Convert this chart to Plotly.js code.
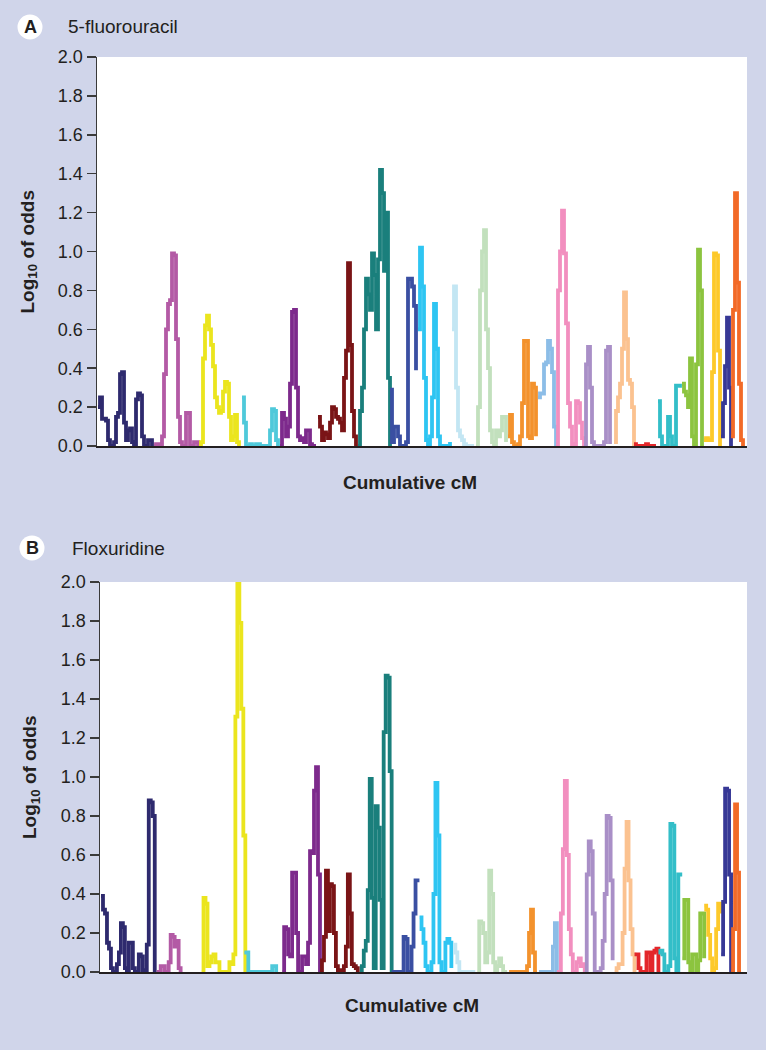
<!DOCTYPE html>
<html><head><meta charset="utf-8">
<script src="https://cdn.plot.ly/plotly-3.0.1.min.js"></script>
<style>html,body{margin:0;padding:0;background:#d0d5ea;}#chart{width:766px;height:1050px;}</style>
</head><body><div id="chart"></div>
<script>
// ---- data ----
const chromosomes = ['1','2','3','4','5','6','7','8','9','10','11','12','13','14','15','16','17','18','19','20','21','22'];
// cumulative cM where each chromosome's scan starts; markers every 2 cM
const chrStartCM = [1,57,102,145,183,221,261,293,321,355,379,411,441,459,487,517,537,561,585,607,624,634];
const markerSpacingCM = 2;
const chrColors = ['#2e2a6e','#b35aa5','#ebe51e','#4fc9da','#7d2a8c','#7a1416','#1a7f7c','#3a4fa2','#2ec5f2','#c3e6f3','#c2e0bd','#f3922d','#8cbde7','#f28fbf','#a98fc7','#fbc290','#e3262a','#33bec8','#8cc43f','#fdc92a','#373896','#f26a27'];

// LOD scores, 5-fluorouracil (panel A), one row per chromosome
const lodFluorouracil = [
  [0.2,0.25,0.14,0.14,0.13,0.03,0,0,0.02,0.15,0.17,0.37,0.38,0.12,0.03,0.08,0.09,0.02,0,0.24,0.27,0.26,0.05,0,0,0.03,0.03,0],
  [0,0.01,0.01,0,0.05,0.37,0.6,0.73,0.75,0.99,0.98,0.55,0.15,0.02,0,0,0.17,0.17,0,0,0.02,0.02,0],
  [0,0.02,0.45,0.62,0.67,0.6,0.52,0.41,0.25,0.2,0.17,0.18,0.28,0.33,0.32,0.15,0.03,0.05,0.16,0.02,0],
  [0.25,0.12,0,0,0.01,0,0,0.01,0.01,0,0,0,0,0,0.08,0.19,0.18,0.03,0],
  [0,0.17,0.14,0.05,0.1,0.32,0.69,0.7,0.3,0.05,0.03,0.04,0.02,0.08,0.08,0.01,0,0,0],
  [0.15,0.1,0.03,0.07,0.06,0.04,0.12,0.2,0.19,0.15,0.14,0.12,0.08,0.35,0.49,0.94,0.52,0.18,0.05,0],
  [0,0.18,0.3,0.6,0.86,0.78,0.7,0.99,0.88,0.6,0.96,1.42,1.3,0.9,1.2,0.35,0],
  [0.29,0.02,0.1,0.1,0.05,0,0,0,0.02,0.86,0.86,0.82,0.72,0.39],
  [0.6,1.02,0.82,0.35,0.03,0.01,0.05,0.25,0.73,0.5,0.05,0,0,0,0,0,0.02],
  [0.6,0.82,0.3,0.08,0.05,0.03,0.01,0,0,0,0,0],
  [0,0.2,0.8,1.0,1.11,0.6,0.4,0.08,0.02,0.01,0.08,0.05,0.08,0.15,0.15,0.02],
  [0.05,0.16,0.02,0,0,0.01,0.05,0.22,0.54,0.54,0.05,0.04,0.32,0.3,0.05],
  [0.25,0.27,0.27,0.42,0.43,0.54,0.5,0.38,0.1,0],
  [0,0.8,1.0,1.21,0.99,0.63,0.22,0.1,0.01,0.01,0.23,0.22,0.12,0.04,0],
  [0,0.42,0.51,0.3,0.02,0,0,0,0,0,0.02,0.49,0.51,0.01],
  [0.02,0.18,0.25,0.32,0.5,0.79,0.55,0.34,0.32,0.2,0],
  [0.01,0,0,0,0,0,0.01,0,0,0,0,0],
  [0.23,0.05,0,0,0,0.15,0.05,0,0,0.31,0.31,0.3],
  [0.32,0.28,0.26,0.2,0.45,0.05,0,0.42,1.01,0.8,0],
  [0.03,0.04,0.03,0.03,0.38,0.99,0.98,0.49,0],
  [0.05,0.22,0.41,0.66,0.3,0],
  [0.05,0.7,1.3,0.84,0.32,0.03,0]
];

// LOD scores, floxuridine (panel B), one row per chromosome
const lodFloxuridine = [
  [0.39,0.32,0.3,0.15,0.12,0.02,0,0,0.04,0.1,0.25,0.23,0.02,0,0.15,0.15,0.02,0,0,0.09,0.08,0.01,0.01,0.14,0.88,0.87,0.8,0],
  [0,0,0.03,0.03,0,0,0.05,0.19,0.18,0.13,0.16,0.02,0],
  [0,0.38,0.35,0.03,0.05,0.08,0.09,0.05,0.05,0,0,0,0,0,0.05,0.04,0.09,1.31,2.0,1.79,1.35,0.7,0],
  [0.1,0.1,0,0,0,0,0,0,0,0,0,0,0,0,0.03,0.03,0],
  [0,0.23,0.22,0.09,0.08,0.51,0.51,0.2,0,0,0.08,0.08,0.04,0.15,0.62,0.61,0.93,1.05,0.5,0],
  [0,0.06,0.18,0.52,0.21,0.45,0.44,0.2,0.03,0.01,0.01,0,0.03,0.13,0.5,0.3,0.04,0.03,0.02,0],
  [0,0.03,0.11,0.16,0.42,0.99,0.38,0.02,0.85,0.74,0.37,0.02,1.23,1.52,1.51,1.03,0],
  [0,0,0,0,0,0,0.18,0.17,0,0,0.13,0.3,0.47,0.48],
  [0.28,0.22,0.15,0.03,0,0,0.05,0.4,0.97,0.7,0.05,0,0,0.15,0.17,0.15,0.02],
  [0.14,0.1,0.05,0,0,0,0,0,0,0,0,0],
  [0,0.26,0.25,0.2,0.05,0.1,0.52,0.4,0.05,0,0.03,0.07,0.03,0,0,0],
  [0,0,0,0,0,0,0,0,0,0.03,0.2,0.32,0.1,0,0],
  [0,0,0,0,0,0,0,0.13,0.25,0],
  [0,0,0.3,0.63,0.98,0.6,0.22,0.09,0,0,0.05,0.07,0.03,0.04,0],
  [0,0.5,0.67,0.62,0.3,0,0,0,0.02,0.16,0.4,0.8,0.79,0.47,0.06],
  [0,0.02,0.04,0.04,0.2,0.53,0.77,0.47,0.22,0.09,0],
  [0.09,0.09,0.02,0,0,0,0.1,0.1,0,0.1,0.11,0.12,0],
  [0.1,0.11,0.09,0,0,0.03,0.76,0.75,0.07,0,0.5,0.49],
  [0.07,0.37,0.37,0.05,0,0.09,0.09,0,0.06,0.3,0.3,0.07],
  [0.34,0.32,0.19,0.07,0,0.02,0.22,0.35,0.3],
  [0.09,0.36,0.94,0.93,0.5,0],
  [0,0.22,0.86,0.51,0,0]
];

const yTickVals = [0,0.2,0.4,0.6,0.8,1.0,1.2,1.4,1.6,1.8,2.0];
const yTickText = ['0.0','0.2','0.4','0.6','0.8','1.0','1.2','1.4','1.6','1.8','2.0'];
const panelLetters = ['A','B'];
const panelTitles = ['5-fluorouracil','Floxuridine'];
const xTitle = 'Cumulative cM';
const yTitle = '<b>Log<sub>10</sub> of odds</b>';

// ---- drawing ----
const W = 766, H = 1050;
const px = v => v / W, py = v => 1 - v / H;

function panelTraces(lods, xa, ya) {
  return lods.map((vals, c) => ({
    type: 'scatter', mode: 'lines', xaxis: xa, yaxis: ya,
    name: 'Chr ' + chromosomes[c],
    x: vals.map((_, i) => chrStartCM[c] + i * markerSpacingCM),
    y: vals,
    line: {color: chrColors[c], width: 3.8, shape: 'hv'},
    hoverinfo: 'skip', showlegend: false
  }));
}

const traces = panelTraces(lodFluorouracil, 'x', 'y').concat(panelTraces(lodFloxuridine, 'x2', 'y2'));

const font = 'Liberation Sans, Arial, Helvetica, sans-serif';
const ink = '#231f20';

function xAx(domain, anchor) {
  return {domain: domain, anchor: anchor, range: [0, 650], showline: true, linecolor: ink, linewidth: 2,
    showticklabels: false, ticks: '', showgrid: false, zeroline: false, fixedrange: true};
}
function yAx(domain, anchor) {
  return {domain: domain, anchor: anchor, range: [0, 2], tickvals: yTickVals, ticktext: yTickText,
    ticks: 'outside', ticklen: 9, tickwidth: 1.5, tickcolor: '#3a3a3a',
    showline: true, linecolor: '#3a3a3a', linewidth: 1.5, showgrid: false, zeroline: false,
    tickfont: {family: font, size: 18, color: ink}, fixedrange: true};
}

const panels = [
  {letterX: 30, letterY: 27, titleX: 66, yTitleX: 29, yMid: 251.5, xTitleX: 410, xTitleY: 482},
  {letterX: 32, letterY: 548, titleX: 70, yTitleX: 31, yMid: 777, xTitleX: 412, xTitleY: 1005}
];

const annotations = [], shapes = [];
panels.forEach((p, k) => {
  shapes.push({type: 'circle', xref: 'paper', yref: 'paper', x0: px(p.letterX - 12.5), x1: px(p.letterX + 12.5),
    y0: py(p.letterY + 12.5), y1: py(p.letterY - 12.5), fillcolor: '#ffffff', line: {width: 0}});
  annotations.push({xref: 'paper', yref: 'paper', x: px(p.letterX), y: py(p.letterY), text: '<b>' + panelLetters[k] + '</b>',
    showarrow: false, xanchor: 'center', yanchor: 'middle', font: {family: font, size: 18, color: ink}});
  annotations.push({xref: 'paper', yref: 'paper', x: px(p.titleX), y: py(p.letterY), text: panelTitles[k],
    showarrow: false, xanchor: 'left', yanchor: 'middle', font: {family: font, size: 19, color: ink}});
  annotations.push({xref: 'paper', yref: 'paper', x: px(p.yTitleX), y: py(p.yMid), text: yTitle, textangle: -90,
    showarrow: false, xanchor: 'center', yanchor: 'middle', font: {family: font, size: 19, color: ink}});
  annotations.push({xref: 'paper', yref: 'paper', x: px(p.xTitleX), y: py(p.xTitleY), text: '<b>' + xTitle + '</b>',
    showarrow: false, xanchor: 'center', yanchor: 'middle', font: {family: font, size: 19, color: ink}});
});

const layout = {
  width: W, height: H, autosize: false,
  margin: {l: 0, r: 0, t: 0, b: 0},
  paper_bgcolor: '#d0d5ea', plot_bgcolor: '#ffffff',
  showlegend: false,
  xaxis: xAx([px(97), px(747)], 'y'),
  yaxis: yAx([py(446), py(57)], 'x'),
  xaxis2: xAx([px(100), px(747)], 'y2'),
  yaxis2: yAx([py(972), py(582)], 'x2'),
  annotations: annotations, shapes: shapes
};

Plotly.newPlot('chart', traces, layout, {staticPlot: true, displayModeBar: false});
</script></body></html>
